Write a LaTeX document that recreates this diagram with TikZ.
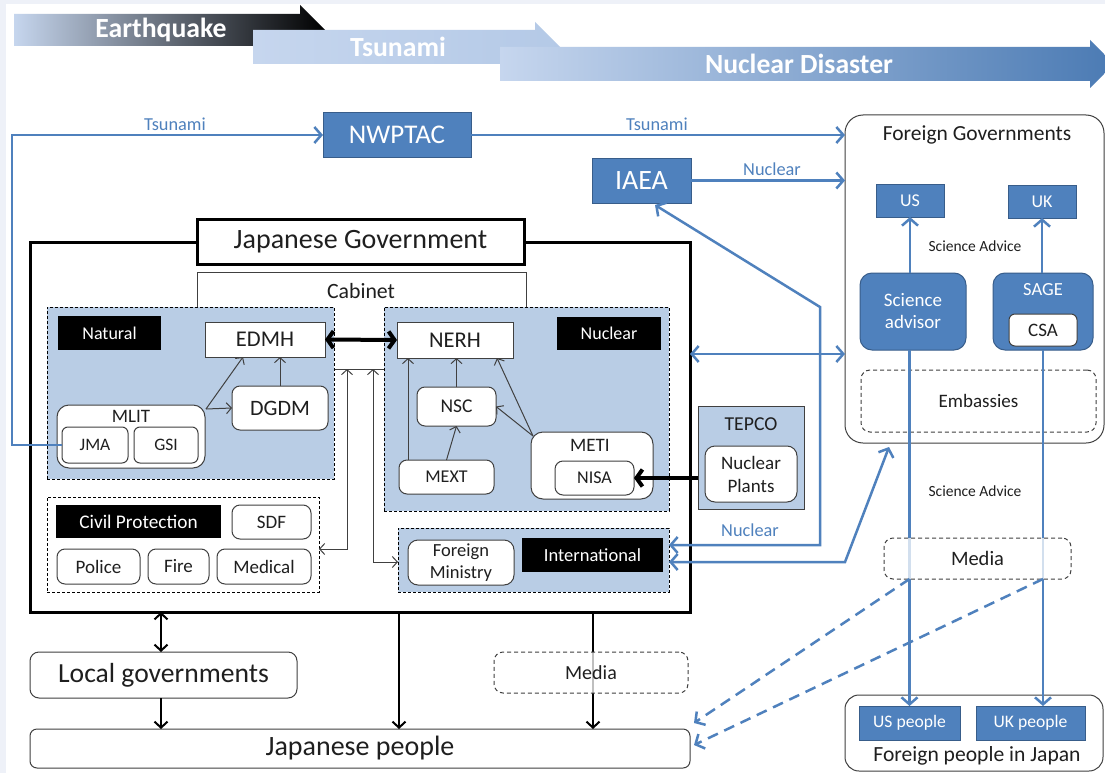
\documentclass[tikz,border=0pt]{standalone}
\usepackage{fontspec}
\setmainfont{Carlito}
\usetikzlibrary{arrows.meta,calc}
\definecolor{bblue}{HTML}{4F81BD}
\definecolor{bdark}{HTML}{385D8A}
\definecolor{panel}{HTML}{B9CDE5}
\definecolor{bgframe}{HTML}{EEF1F8}
\definecolor{txt}{HTML}{1F1F1F}
\definecolor{edge}{HTML}{404040}
\definecolor{lightb}{HTML}{C6D6EE}
\newcommand{\fs}[2]{\fontsize{#1}{#2}\selectfont}
\begin{document}
\begin{tikzpicture}[x=1pt,y=-1pt,
  >={Straight Barb[length=7pt,width=16pt]},
  sz/.style 2 args={minimum width=#1pt, minimum height=#2pt},
  box/.style={draw=edge, line width=1pt, fill=white, inner sep=0pt, outer sep=0pt, align=center, text=txt},
  bbox/.style={draw=bdark, line width=1pt, fill=bblue, text=white, inner sep=0pt, outer sep=0pt, align=center},
  blk/.style={fill=black, text=white, inner sep=0pt, outer sep=0pt},
  pan/.style={draw=black, dash pattern=on 3pt off 2pt, line width=0.8pt, fill=panel, inner sep=0pt, outer sep=0pt},
  dbox/.style={draw=edge, dash pattern=on 4pt off 3pt, line width=1pt, rounded corners=9pt, fill=white, inner sep=0pt, outer sep=0pt, text=txt},
  lbl/.style={inner sep=0pt, text=txt},
  blbl/.style={inner sep=0pt, text=bblue, font=\fs{18.3}{20}},
  barrow/.style={draw=bblue, line width=2.5pt},
  tarr/.style={draw=edge, line width=1pt, >={Straight Barb[length=5pt,width=11pt]}},
  karr/.style={draw=black, line width=2pt, >={Straight Barb[length=6pt,width=13pt]}},
  harr/.style={draw=black, line width=4pt, >={Straight Barb[length=6pt,width=17pt]}},
  banner/.style={text=white, font=\bfseries\fs{27.7}{30}, inner sep=0pt}
]
\useasboundingbox (0,0) rectangle (1105,773);
\fill[bgframe] (0,0) rectangle (1105,773);
\fill[white] (6,4) rectangle (1105,773);

% banners
\shade[left color=lightb, right color=black] (14,14) -- (300,14) -- (300,5) -- (325,30) -- (300,55) -- (300,46) -- (14,46) -- cycle;
\node[banner] (eq) at (161,30) {Earthquake};
\shade[left color=lightb, right color=lightb!85!bblue] (253,30) -- (535,30) -- (535,22) -- (560,47) -- (535,72) -- (535,64) -- (253,64) -- cycle;
\node[banner] (ts) at (398,47) {Tsunami};
\shade[left color=lightb, right color=bblue!95!black] (500,47) -- (1090,47) -- (1090,40) -- (1114,64) -- (1090,88) -- (1090,81) -- (500,81) -- cycle;
\node[banner] (nd) at (799,64) {Nuclear Disaster};

% international bodies
\node[bbox, sz={148}{44}, font=\fs{27}{30}] (nwptac) at (397,135) {NWPTAC};
\node[bbox, sz={99}{45}, font=\fs{28}{30}] (iaea) at (641.5,180.5) {IAEA};

% foreign governments
\node[box, rounded corners=18pt, sz={259}{328}] (fg) at (974.5,279) {};
\node[lbl, font=\fs{21.5}{24}] (fgl) at (977,135) {Foreign Governments};
\node[bbox, sz={68}{33}, font=\fs{18}{20}] (us) at (910,200.5) {US};
\node[bbox, sz={68}{33}, font=\fs{18}{20}] (uk) at (1042,201.5) {UK};
\node[bbox, rounded corners=12pt, sz={106}{77}, font=\fs{19}{22}] (sci) at (913,311.5) {Science\\advisor};
\node[bbox, rounded corners=12pt, sz={100}{77}] (sage) at (1043,311.5) {};
\node[inner sep=0pt, text=white, font=\fs{18.5}{20}] (sagel) at (1043,290) {SAGE};
\node[box, rounded corners=6pt, sz={68}{32}, font=\fs{19}{22}] (csa) at (1043,330) {CSA};
\node[dbox, sz={235}{62}, font=\fs{19}{22}] (emb) at (978.5,401) {Embassies};
\node[lbl, font=\fs{15.5}{18}] (sa1) at (975,246) {Science Advice};
\node[lbl, font=\fs{15.5}{18}] (sa2) at (975,491) {Science Advice};

% foreign people
\node[box, rounded corners=14pt, sz={258}{76}] (fp) at (974,733) {};
\node[lbl, font=\fs{21.6}{24}] (fpl) at (977,756) {Foreign people in Japan};
\node[bbox, sz={101}{34}, font=\fs{17.6}{20}] (usp) at (909.5,723) {US people};
\node[bbox, sz={109}{34}, font=\fs{17.6}{20}] (ukp) at (1030.5,723) {UK people};

% Japanese government frame
\node[draw=black, line width=3pt, fill=white, sz={660}{370}, inner sep=0pt, outer sep=0pt] (jg) at (360,427) {};
\node[box, line width=3pt, draw=black, sz={327}{45}, font=\fs{28}{30}] (jgt) at (360.5,241.5) {Japanese Government};
\node[box, sz={329}{97}] (cab) at (361.5,320.5) {};
\node[lbl, font=\fs{21.8}{24}] (cabl) at (361,291) {Cabinet};

% natural panel
\node[pan, sz={287}{172}] (natp) at (190.5,393) {};
\node[blk, sz={103}{34}, font=\fs{18}{20}] (nat) at (109.5,333) {Natural};
\node[box, sz={120}{35}, font=\fs{22.5}{24}] (edmh) at (265,339.5) {EDMH};
\node[box, rounded corners=8pt, sz={96}{44}, font=\fs{22}{24}] (dgdm) at (280,408) {DGDM};
\node[box, rounded corners=12pt, sz={148}{63}] (mlit) at (131,436.5) {};
\node[lbl, font=\fs{19}{20}] (mlitl) at (131,416) {MLIT};
\node[box, rounded corners=6pt, sz={66}{36}, font=\fs{17.5}{20}] (jma) at (95,445) {JMA};
\node[box, rounded corners=6pt, sz={64}{36}, font=\fs{17.5}{20}] (gsi) at (166,445) {GSI};

% nuclear panel
\node[pan, sz={285}{204}] (nucp) at (526.5,409) {};
\node[box, sz={116}{36}, font=\fs{22.5}{24}] (nerh) at (455,340) {NERH};
\node[blk, sz={104}{33}, font=\fs{18}{20}] (nucl) at (609,333.5) {Nuclear};
\node[box, rounded corners=8pt, sz={79}{39}, font=\fs{19.5}{22}] (nsc) at (456.5,406.5) {NSC};
\node[box, rounded corners=8pt, sz={95}{34}, font=\fs{18}{20}] (mext) at (446.5,477) {MEXT};
\node[box, rounded corners=12pt, sz={122}{67}] (meti) at (592,465.5) {};
\node[lbl, font=\fs{19}{20}] (metil) at (590,445) {METI};
\node[box, rounded corners=8pt, sz={79}{34}, font=\fs{18}{20}] (nisa) at (594.5,478) {NISA};

% TEPCO
\node[draw=edge, line width=1pt, fill=panel, sz={106}{103}, inner sep=0pt, outer sep=0pt] (tepco) at (751,457.5) {};
\node[lbl, font=\fs{19.7}{22}] (tepcol) at (751,424) {TEPCO};
\node[box, rounded corners=10pt, sz={92}{56}, font=\fs{19}{23}] (npl) at (751,474) {Nuclear\\Plants};

% civil protection panel
\node[pan, fill=white, sz={272}{95}] (civp) at (183,544.5) {};
\node[blk, sz={165}{33}, font=\fs{19.3}{22}] (civ) at (138.5,521.5) {Civil Protection};
\node[box, rounded corners=8pt, sz={79}{34}, font=\fs{19}{22}] (sdf) at (271.5,522) {SDF};
\node[box, rounded corners=8pt, sz={83}{35}, font=\fs{19}{22}] (pol) at (98.5,566.5) {Police};
\node[box, rounded corners=8pt, sz={61}{35}, font=\fs{19}{22}] (fire) at (178.5,566.5) {Fire};
\node[box, rounded corners=8pt, sz={94}{35}, font=\fs{19}{22}] (med) at (264,566.5) {Medical};

% international panel
\node[pan, sz={271}{64}] (intp) at (533.5,560) {};
\node[box, rounded corners=10pt, sz={106}{45}, font=\fs{18.5}{22}] (fmin) at (461,562.5) {Foreign\\Ministry};
\node[blk, sz={141}{34}, font=\fs{18.5}{22}] (intl) at (592.5,555) {International};

% bottom
\node[box, rounded corners=9pt, sz={267}{46}, font=\fs{27.6}{30}] (lg) at (163.5,675) {Local governments};
\node[box, rounded corners=7pt, sz={660}{39}, font=\fs{28}{30}] (jp) at (360,748.5) {Japanese people};

% coordinates
\coordinate (x12) at (12,0);
\coordinate (x161) at (161,0);
\coordinate (x243) at (243,0);
\coordinate (x347) at (347,0);
\coordinate (x373) at (373,0);
\coordinate (x399) at (399,0);
\coordinate (x408) at (408,0);
\coordinate (x497) at (497,0);
\coordinate (x593) at (593,0);
\coordinate (y354) at (0,354);
\coordinate (y549) at (0,549);
\coordinate (y562) at (0,562);
\coordinate (mlitc) at (206,409);
\coordinate (metic) at (533,436);
\coordinate (iaeab) at (655,205);
\coordinate (b1) at (820,307);
\coordinate (b2) at (820,545);
\coordinate (c1) at (845,562);
\coordinate (fgb) at (889,447);
\coordinate (jp1) at (694,723);
\coordinate (jp2) at (694,745);

% blue connectors
\draw[barrow, ->] (jma.west) -- (jma.west -| x12) |- (nwptac.west);
\node[blbl] (tl1) at (175,124) {Tsunami};
\draw[barrow, ->] (nwptac.east) -- (nwptac.east -| fg.west);
\node[blbl] (tl2) at (657,124) {Tsunami};
\draw[barrow, ->] (iaea.east) -- (iaea.east -| fg.west);
\node[blbl] (nl1) at (772,169) {Nuclear};
\draw[barrow, <->] (jg.east |- y354) -- (fg.west |- y354);
\draw[barrow, <->] (intp.east |- b2) -- (b2) -- (b1) -- (iaeab);
\node[blbl] (nl2) at (750,530) {Nuclear};
\draw[barrow, <->] (intp.east |- c1) -- (c1) -- (fgb);
\draw[barrow, ->] (sci.north -| us.south) -- (us.south);
\draw[barrow, ->] (sage.north -| uk.south) -- (uk.south);
\draw[barrow, ->] (sci.south -| usp.north) -- (usp.north);
\draw[barrow, ->] (sage.south) -- (sage.south |- ukp.north);
\node[dbox, fill opacity=0.75, text opacity=1, sz={187}{41}, font=\fs{20.5}{22}] (medr) at (977.5,558.5) {Media};
\draw[barrow, dash pattern=on 11pt off 7pt, ->] (medr.south -| usp.north) -- (jp1);
\draw[barrow, dash pattern=on 11pt off 7pt, ->] (medr.south -| sage.south) -- (jp2);

% black connectors inside
\draw[harr, <->] (edmh.east) -- (nerh.west);
\draw[harr, ->] (tepco.west |- nisa.east) -- (nisa.east);
\draw[tarr, ->] (mlitc) -- (x243 |- edmh.south);
\draw[tarr, ->] (mlitc) -- (dgdm.west);
\draw[tarr, ->] (dgdm.north) -- (dgdm.north |- edmh.south);
\draw[tarr, ->] (x408 |- mext.north) -- (x408 |- nerh.south);
\draw[tarr, ->] (mext.north) -- (nsc.south);
\draw[tarr, ->] (nsc.north) -- (nsc.north |- nerh.south);
\draw[tarr, ->] (metic) -- (nsc.east);
\draw[tarr, ->] (metic) -- (x497 |- nerh.south);
\draw[tarr, <->] (x347 |- cab.south) -- (x347 |- y549) -- (civp.east |- y549);
\draw[tarr, <->] (x373 |- cab.south) -- (x373 |- y562) -- (intp.west |- y562);

% bottom connectors
\draw[karr, <->] (x161 |- jg.south) -- (x161 |- lg.north);
\draw[karr, ->] (x161 |- lg.south) -- (x161 |- jp.north);
\draw[karr, ->] (x399 |- jg.south) -- (x399 |- jp.north);
\draw[karr, ->] (x593 |- jg.south) -- (x593 |- jp.north);
\node[dbox, fill opacity=0.75, text opacity=1, sz={194}{41}, font=\fs{20}{22}] (medl) at (591,672.5) {Media};
\end{tikzpicture}
\end{document}
